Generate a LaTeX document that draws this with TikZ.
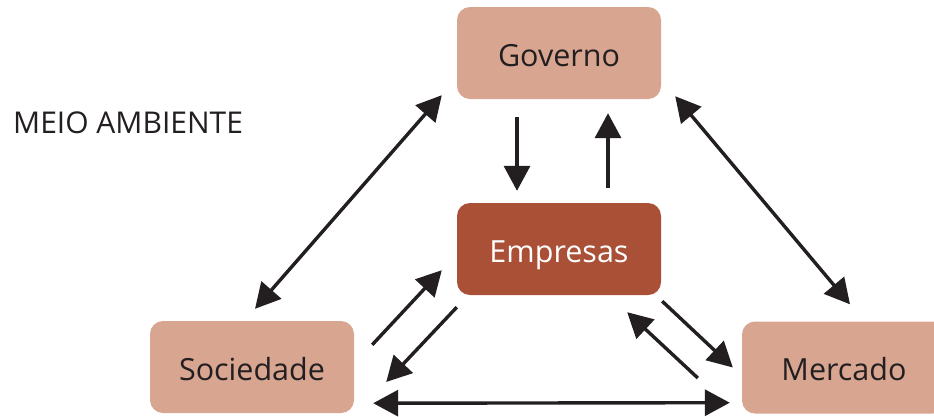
\documentclass[tikz,border=0pt]{standalone}
\usepackage{fontspec}
\setmainfont{Open Sans}
\usetikzlibrary{arrows.meta}
\definecolor{boxlight}{HTML}{D8A591}
\definecolor{boxdark}{HTML}{AA5036}
\definecolor{ink}{HTML}{231F20}
\tikzset{
  actor/.style={rectangle, rounded corners=13pt, minimum width=204pt, minimum height=92pt, fill=boxlight, text=ink, font=\fontsize{30.5}{36}\selectfont, inner sep=0pt, text height=27pt, text depth=1pt},
  core/.style={actor, fill=boxdark, text=white},
  tip/.style={},
  link/.style={line width=3.4pt, draw=ink, -{Triangle[length=25pt,width=26pt]}},
  dbl/.style={line width=3.4pt, draw=ink, {Triangle[length=25pt,width=26pt]}-{Triangle[length=25pt,width=26pt]}},
}
\begin{document}
\begin{tikzpicture}[x=1pt,y=1pt]
\clip (0,0) rectangle (934,-416);
\fill[white] (0,0) rectangle (934,-416);
\node[actor] (gov) at (559,-53) {Governo};
\node[core] (emp) at (559,-249) {Empresas};
\node[actor] (soc) at (252,-367) {Sociedade};
\node[actor] (mer) at (844,-367.5) {Mercado};
\node[anchor=west, text=ink, font=\fontsize{30}{34}\selectfont, inner sep=0pt] (meio) at (13,-123) {MEIO AMBIENTE};
% diagonals
\draw[dbl] ([shift={(3pt,12pt)}]soc.north) -- ([shift={(-15pt,4pt)}]gov.south west);
\draw[dbl] ([shift={(14pt,3pt)}]gov.south east) -- ([shift={(6pt,17pt)}]mer.north);
% governo <-> empresas
\draw[link] ([shift={(-42pt,-18pt)}]gov.south) -- ([shift={(-42pt,12pt)}]emp.north);
\draw[link] ([shift={(49pt,15pt)}]emp.north) -- ([shift={(49pt,-14pt)}]gov.south);
% sociedade <-> empresas
\draw[link] ([shift={(18pt,-24pt)}]soc.north east) -- ([shift={(-15pt,25pt)}]emp.south west);
\draw[link] ([shift={(0pt,-12pt)}]emp.south west) -- ([shift={(32pt,-15pt)}]soc.east);
% empresas <-> mercado
\draw[link] ([shift={(1pt,-6pt)}]emp.south east) -- ([shift={(-9pt,0pt)}]mer.west);
\draw[link] ([shift={(-44pt,-10.5pt)}]mer.west) -- ([shift={(-34pt,-17pt)}]emp.south east);
% sociedade <-> mercado
\draw[dbl] ([shift={(19pt,10pt)}]soc.south east) -- ([shift={(-12pt,11pt)}]mer.south west);
\end{tikzpicture}
\end{document}
